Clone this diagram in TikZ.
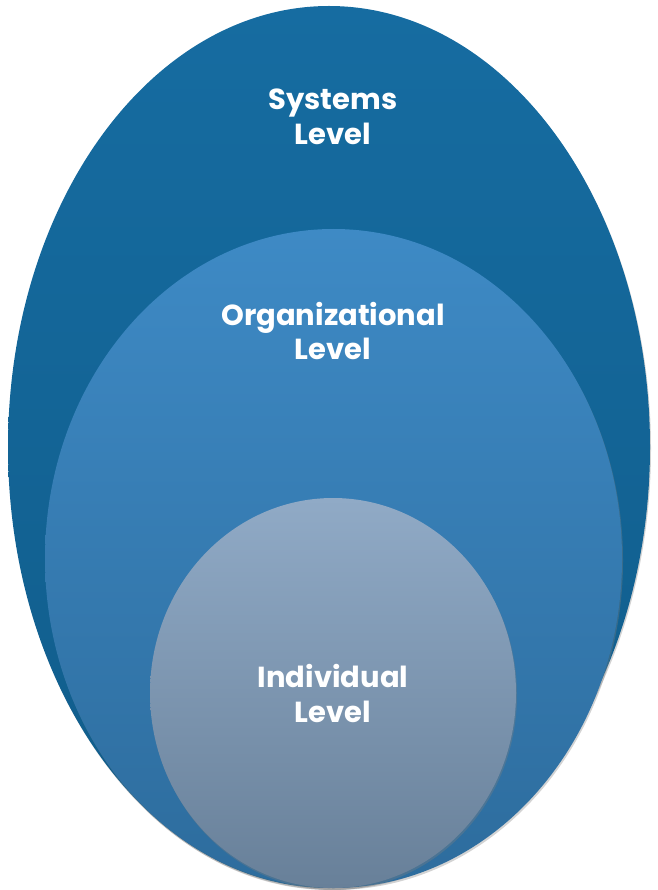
\documentclass[tikz,border=0pt]{standalone}
\usepackage{fontspec}
\setmainfont{Poppins}
\usepackage{tikz}
\usetikzlibrary{shapes,shadows}
\definecolor{sysTop}{RGB}{22,108,161}
\definecolor{sysBot}{RGB}{16,92,138}
\definecolor{orgTop}{RGB}{62,138,197}
\definecolor{orgBot}{RGB}{45,108,157}
\definecolor{indTop}{RGB}{144,170,198}
\definecolor{indBot}{RGB}{104,128,153}

\begin{document}
\begin{tikzpicture}[x=1pt,y=-1pt,inner sep=0pt,outer sep=0pt]
 \tikzstyle{level}=[ellipse,draw=none,drop shadow={shadow xshift=1pt,shadow yshift=-2pt,opacity=0.35}]
 \tikzstyle{lbl}=[text=white,align=center,font=\bfseries\fontsize{29}{35}\selectfont]

   \useasboundingbox (0,0) rectangle (657,890);
   \node[level,minimum width=642pt,minimum height=882pt,top color=sysTop,bottom color=sysBot] (systems) at (329,447) {};
   \node[level,minimum width=577pt,minimum height=659pt,top color=orgTop,bottom color=orgBot] (org) at (333.5,558.5) {};
   \node[level,minimum width=366pt,minimum height=390pt,top color=indTop,bottom color=indBot] (indiv) at (333,693) {};

   \node[lbl] (systxt) at (333,117) {Systems\\Level};
   \node[lbl] (orgtxt) at (333,331) {Organizational\\Level};
   \node[lbl] (indtxt) at (333,693) {Individual\\Level};

\end{tikzpicture}
\end{document}
